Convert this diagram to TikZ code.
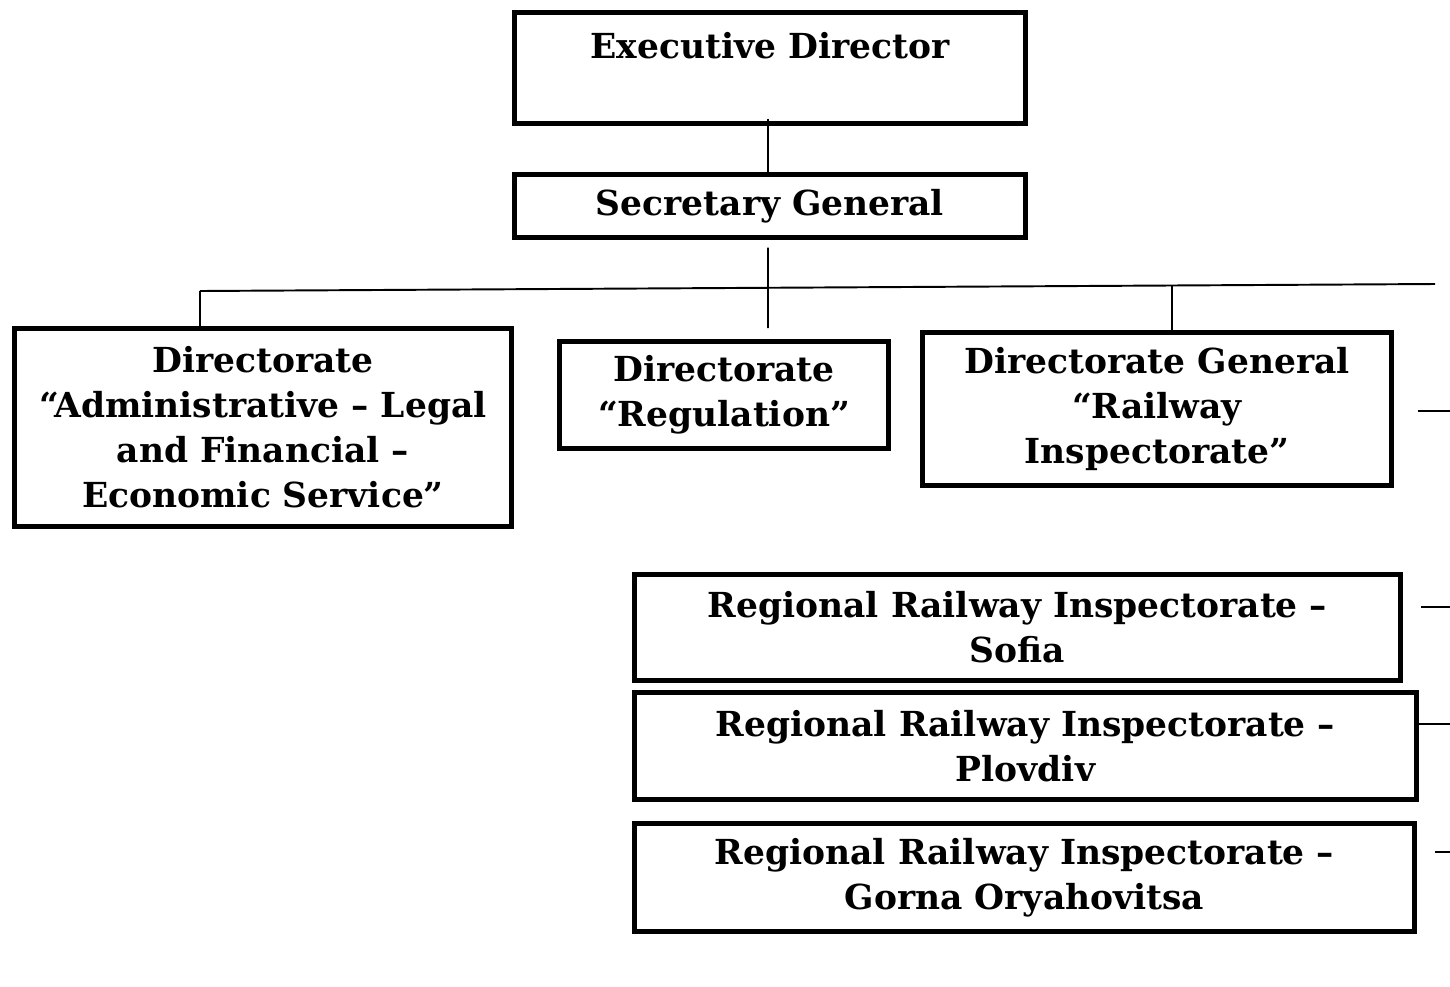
\documentclass[tikz,border=0pt]{standalone}
\usepackage{fontspec}
\setmainfont{DejaVu Serif}
\usepackage{tikz}

\begin{document}
\begin{tikzpicture}[x=0.01cm,y=-0.01cm,
  unit/.style={draw,line width=1.5pt,align=center,inner sep=0pt,
    font=\bfseries\fontsize{9.8}{12.8}\selectfont},
  link/.style={line width=0.55pt}]
\useasboundingbox (0,0) rectangle (1450,987);
% boxes
\node[unit,minimum width=5.11cm,minimum height=1.11cm] (exec) at (770,68) {Executive Director\\ \mbox{}};
\node[unit,minimum width=5.11cm,minimum height=0.63cm] (secgen) at (770,206) {Secretary General};
\node[unit,minimum width=4.97cm,minimum height=1.98cm] (admin) at (263,427.5)
  {Directorate\\ “Administrative – Legal\\ and Financial –\\ Economic Service”};
\node[unit,minimum width=3.29cm,minimum height=1.07cm] (reg) at (724,395) {Directorate\\ “Regulation”};
\node[unit,minimum width=4.69cm,minimum height=1.53cm] (rail) at (1157,409)
  {Directorate General\\ “Railway\\ Inspectorate”};
\node[unit,minimum width=7.66cm,minimum height=1.06cm] (sofia) at (1017.5,627.5)
  {Regional Railway Inspectorate –\\ Sofia};
\node[unit,minimum width=7.82cm,minimum height=1.07cm] (plovdiv) at (1025.5,746)
  {Regional Railway Inspectorate –\\ Plovdiv};
\node[unit,minimum width=7.80cm,minimum height=1.08cm] (gorna) at (1024.5,877.5)
  {Regional Railway Inspectorate –\\ Gorna Oryahovitsa};
% tree lines
\coordinate (busL) at (200,291);
\coordinate (busR) at (1435,284);
\coordinate (hub) at (768,328);
\coordinate (railtap) at (1172,285.5);
\coordinate (edge) at (1450,0);
\draw[link] ([xshift=-0.02cm,yshift=0.075cm]exec.south) -- ([xshift=-0.02cm]secgen.north);
\draw[link] ([xshift=-0.02cm,yshift=-0.075cm]secgen.south) -- (hub);
\draw[link] (busL) -- (busR);
\draw[link] (busL) -- ([yshift=-0.045cm]busL |- admin.north);
\draw[link] (railtap) -- (railtap |- rail.north);
% stubs to the right
\draw[link] ([xshift=0.235cm,yshift=-0.02cm]rail.east) -- ([yshift=-0.02cm]rail.east -| edge);
\draw[link] ([xshift=0.175cm,yshift=0.205cm]sofia.east) -- ([yshift=0.205cm]sofia.east -| edge);
\draw[link] ([yshift=0.22cm]plovdiv.east) -- ([yshift=0.22cm]plovdiv.east -| edge);
\draw[link] ([xshift=0.175cm,yshift=0.255cm]gorna.east) -- ([yshift=0.255cm]gorna.east -| edge);
\end{tikzpicture}
\end{document}
